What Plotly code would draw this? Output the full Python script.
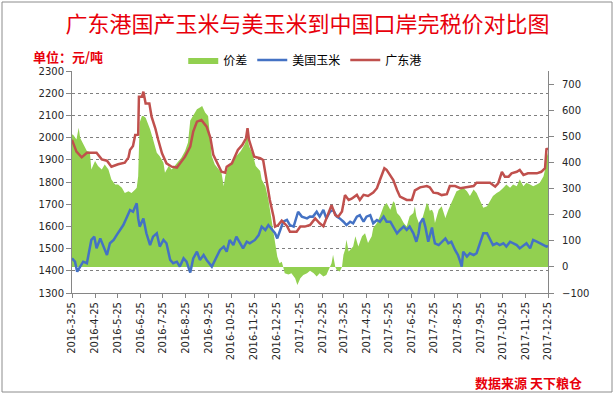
import plotly.graph_objects as go

# ---------------- data ----------------
tick_dates = ["2016-03-25", "2016-04-25", "2016-05-25", "2016-06-25", "2016-07-25", "2016-08-25",
              "2016-09-25", "2016-10-25", "2016-11-25", "2016-12-25", "2017-01-25", "2017-02-25",
              "2017-03-25", "2017-04-25", "2017-05-25", "2017-06-25", "2017-07-25", "2017-08-25",
              "2017-09-25", "2017-10-25", "2017-11-25", "2017-12-25"]
tick_labels = ["2016-3-25", "2016-4-25", "2016-5-25", "2016-6-25", "2016-7-25", "2016-8-25",
               "2016-9-25", "2016-10-25", "2016-11-25", "2016-12-25", "2017-1-25", "2017-2-25",
               "2017-3-25", "2017-4-25", "2017-5-25", "2017-6-25", "2017-7-25", "2017-8-25",
               "2017-9-25", "2017-10-25", "2017-11-25", "2017-12-25"]

# 广东港 (left axis)
gd_dates = [
    "2016-03-25", "2016-03-31", "2016-04-07", "2016-04-14", "2016-04-27", "2016-05-04", "2016-05-11", "2016-05-17", "2016-05-26", "2016-06-04",
    "2016-06-09", "2016-06-11", "2016-06-15", "2016-06-18", "2016-06-22", "2016-06-23", "2016-06-27", "2016-06-29", "2016-07-02", "2016-07-07",
    "2016-07-10", "2016-07-15", "2016-07-19", "2016-07-24", "2016-07-30", "2016-08-06", "2016-08-13", "2016-08-17", "2016-08-24", "2016-08-31",
    "2016-09-04", "2016-09-09", "2016-09-15", "2016-09-22", "2016-09-27", "2016-10-01", "2016-10-08", "2016-10-12", "2016-10-17", "2016-10-19",
    "2016-10-26", "2016-10-30", "2016-11-03", "2016-11-09", "2016-11-14", "2016-11-16", "2016-11-18", "2016-11-25", "2016-12-03", "2016-12-07",
    "2016-12-12", "2016-12-16", "2016-12-21", "2016-12-23", "2016-12-27", "2017-01-01", "2017-01-08", "2017-01-12", "2017-01-21", "2017-01-26",
    "2017-02-01", "2017-02-08", "2017-02-15", "2017-02-21", "2017-02-26", "2017-03-05", "2017-03-09", "2017-03-14", "2017-03-18", "2017-03-23",
    "2017-03-27", "2017-04-01", "2017-04-05", "2017-04-12", "2017-04-16", "2017-04-21", "2017-04-27", "2017-05-04", "2017-05-09", "2017-05-13",
    "2017-05-19", "2017-05-22", "2017-05-27", "2017-05-31", "2017-06-05", "2017-06-09", "2017-06-18", "2017-06-25", "2017-06-29", "2017-07-06",
    "2017-07-15", "2017-07-19", "2017-07-24", "2017-07-30", "2017-08-04", "2017-08-11", "2017-08-15", "2017-08-22", "2017-08-29", "2017-09-07",
    "2017-09-16", "2017-09-20", "2017-09-29", "2017-10-08", "2017-10-15", "2017-10-19", "2017-10-24", "2017-10-28", "2017-11-02", "2017-11-06",
    "2017-11-13", "2017-11-17", "2017-11-22", "2017-11-28", "2017-12-05", "2017-12-10", "2017-12-16", "2017-12-21", "2017-12-23", "2017-12-25"]
gd_price = [
    1990, 1937, 1911, 1932, 1932, 1902, 1896, 1869, 1880, 1887,
    1911, 1944, 1962, 2012, 2013, 2184, 2184, 2207, 2154, 2154,
    2094, 2042, 1989, 1929, 1884, 1869, 1865, 1884, 1914, 1960,
    2027, 2072, 2079, 2049, 2000, 1922, 1877, 1846, 1842, 1869,
    1884, 1914, 1944, 1967, 1997, 2042, 1990, 1914, 1907, 1899,
    1801, 1719, 1644, 1599, 1605, 1626, 1602, 1576, 1576, 1599,
    1599, 1606, 1636, 1614, 1601, 1659, 1696, 1651, 1644, 1667,
    1741, 1719, 1725, 1742, 1719, 1742, 1737, 1752, 1772, 1809,
    1862, 1855, 1832, 1809, 1764, 1734, 1719, 1719, 1762, 1776,
    1782, 1776, 1752, 1749, 1741, 1745, 1782, 1782, 1772, 1776,
    1782, 1797, 1797, 1797, 1779, 1794, 1846, 1824, 1824, 1839,
    1846, 1854, 1832, 1839, 1839, 1839, 1846, 1862, 1952, 1945]

# 美国玉米 (left axis)
us_dates = [
    "2016-03-25", "2016-03-29", "2016-04-01", "2016-04-05", "2016-04-09", "2016-04-14", "2016-04-16", "2016-04-20", "2016-04-24", "2016-04-27",
    "2016-05-02", "2016-05-06", "2016-05-11", "2016-05-15", "2016-05-20", "2016-05-24", "2016-05-29", "2016-06-02", "2016-06-07", "2016-06-11",
    "2016-06-15", "2016-06-20", "2016-06-22", "2016-06-24", "2016-06-29", "2016-07-03", "2016-07-08", "2016-07-12", "2016-07-17", "2016-07-21",
    "2016-07-26", "2016-07-30", "2016-08-04", "2016-08-08", "2016-08-13", "2016-08-17", "2016-08-22", "2016-08-26", "2016-08-31", "2016-09-04",
    "2016-09-09", "2016-09-13", "2016-09-18", "2016-09-22", "2016-09-29", "2016-10-03", "2016-10-10", "2016-10-15", "2016-10-19", "2016-10-23",
    "2016-10-28", "2016-11-01", "2016-11-06", "2016-11-10", "2016-11-15", "2016-11-19", "2016-11-26", "2016-12-01", "2016-12-05", "2016-12-10",
    "2016-12-14", "2016-12-18", "2016-12-23", "2016-12-26", "2016-12-30", "2017-01-03", "2017-01-08", "2017-01-12", "2017-01-17", "2017-01-21",
    "2017-01-23", "2017-01-28", "2017-02-04", "2017-02-08", "2017-02-12", "2017-02-17", "2017-02-21", "2017-02-26", "2017-03-02", "2017-03-07",
    "2017-03-11", "2017-03-16", "2017-03-20", "2017-03-25", "2017-03-29", "2017-04-03", "2017-04-07", "2017-04-12", "2017-04-16", "2017-04-21",
    "2017-04-25", "2017-04-30", "2017-05-04", "2017-05-09", "2017-05-13", "2017-05-18", "2017-05-22", "2017-05-27", "2017-05-31", "2017-06-05",
    "2017-06-09", "2017-06-14", "2017-06-18", "2017-06-22", "2017-06-27", "2017-07-01", "2017-07-04", "2017-07-06", "2017-07-10", "2017-07-13",
    "2017-07-17", "2017-07-22", "2017-07-24", "2017-07-26", "2017-07-31", "2017-08-04", "2017-08-09", "2017-08-13", "2017-08-17", "2017-08-22",
    "2017-08-26", "2017-08-29", "2017-08-31", "2017-09-02", "2017-09-07", "2017-09-11", "2017-09-16", "2017-09-20", "2017-09-25", "2017-09-29",
    "2017-10-04", "2017-10-08", "2017-10-12", "2017-10-17", "2017-10-21", "2017-10-26", "2017-10-30", "2017-11-04", "2017-11-08", "2017-11-13",
    "2017-11-17", "2017-11-22", "2017-11-26", "2017-12-01", "2017-12-05", "2017-12-10", "2017-12-14", "2017-12-19", "2017-12-23", "2017-12-25"]
us_price = [
    1456, 1441, 1396, 1419, 1441, 1434, 1471, 1539, 1554, 1501,
    1546, 1509, 1471, 1524, 1539, 1561, 1584, 1606, 1644, 1674,
    1666, 1704, 1636, 1599, 1636, 1569, 1516, 1554, 1569, 1509,
    1539, 1524, 1449, 1434, 1441, 1419, 1456, 1441, 1392, 1456,
    1486, 1449, 1471, 1449, 1419, 1449, 1494, 1509, 1486, 1539,
    1516, 1554, 1524, 1501, 1531, 1524, 1539, 1561, 1599, 1584,
    1606, 1591, 1569, 1546, 1584, 1621, 1629, 1606, 1599, 1644,
    1666, 1644, 1636, 1645, 1644, 1666, 1644, 1674, 1636, 1666,
    1674, 1644, 1636, 1621, 1606, 1621, 1614, 1644, 1651, 1621,
    1644, 1651, 1614, 1629, 1621, 1644, 1621, 1621, 1599, 1569,
    1584, 1599, 1584, 1599, 1569, 1531, 1569, 1614, 1636, 1599,
    1531, 1595, 1554, 1524, 1516, 1531, 1546, 1524, 1531, 1494,
    1471, 1441, 1419, 1486, 1464, 1479, 1471, 1479, 1524, 1569,
    1569, 1539, 1516, 1524, 1516, 1524, 1509, 1531, 1524, 1516,
    1501, 1516, 1524, 1501, 1539, 1531, 1524, 1516, 1509, 1512]

# 价差 (right axis)
spread_dates = [
    "2016-03-25", "2016-03-27", "2016-03-31", "2016-04-03", "2016-04-05", "2016-04-09", "2016-04-14", "2016-04-18", "2016-04-20", "2016-04-25",
    "2016-04-29", "2016-05-04", "2016-05-08", "2016-05-13", "2016-05-17", "2016-05-22", "2016-05-26", "2016-05-31", "2016-06-04", "2016-06-09",
    "2016-06-13", "2016-06-18", "2016-06-20", "2016-06-22", "2016-06-24", "2016-06-27", "2016-06-29", "2016-07-02", "2016-07-06", "2016-07-08",
    "2016-07-12", "2016-07-17", "2016-07-21", "2016-07-26", "2016-07-28", "2016-08-02", "2016-08-06", "2016-08-10", "2016-08-15", "2016-08-19",
    "2016-08-24", "2016-08-28", "2016-08-31", "2016-09-04", "2016-09-09", "2016-09-13", "2016-09-16", "2016-09-20", "2016-09-24", "2016-09-27",
    "2016-09-29", "2016-10-03", "2016-10-08", "2016-10-12", "2016-10-15", "2016-10-17", "2016-10-21", "2016-10-26", "2016-10-30", "2016-11-03",
    "2016-11-07", "2016-11-12", "2016-11-14", "2016-11-16", "2016-11-18", "2016-11-23", "2016-11-27", "2016-12-03", "2016-12-05", "2016-12-10",
    "2016-12-14", "2016-12-18", "2016-12-23", "2016-12-26", "2016-12-29", "2017-01-01", "2017-01-03", "2017-01-05", "2017-01-10", "2017-01-14",
    "2017-01-19", "2017-01-22", "2017-01-26", "2017-01-30", "2017-02-04", "2017-02-08", "2017-02-13", "2017-02-17", "2017-02-21", "2017-02-26",
    "2017-03-02", "2017-03-07", "2017-03-09", "2017-03-11", "2017-03-14", "2017-03-16", "2017-03-20", "2017-03-23", "2017-03-25", "2017-03-27",
    "2017-03-29", "2017-04-01", "2017-04-03", "2017-04-07", "2017-04-10", "2017-04-14", "2017-04-19", "2017-04-23", "2017-04-27", "2017-05-02",
    "2017-05-04", "2017-05-09", "2017-05-13", "2017-05-18", "2017-05-22", "2017-05-27", "2017-05-31", "2017-06-02", "2017-06-05", "2017-06-09",
    "2017-06-14", "2017-06-18", "2017-06-22", "2017-06-27", "2017-06-29", "2017-07-01", "2017-07-06", "2017-07-10", "2017-07-15", "2017-07-17",
    "2017-07-19", "2017-07-22", "2017-07-24", "2017-07-26", "2017-07-31", "2017-08-04", "2017-08-09", "2017-08-13", "2017-08-17", "2017-08-20",
    "2017-08-24", "2017-08-29", "2017-09-02", "2017-09-07", "2017-09-11", "2017-09-16", "2017-09-20", "2017-09-25", "2017-09-29", "2017-10-04",
    "2017-10-08", "2017-10-12", "2017-10-17", "2017-10-21", "2017-10-26", "2017-10-30", "2017-11-04", "2017-11-08", "2017-11-13", "2017-11-17",
    "2017-11-22", "2017-11-26", "2017-12-01", "2017-12-05", "2017-12-10", "2017-12-14", "2017-12-19", "2017-12-21", "2017-12-23", "2017-12-25"]
spread = [
    508, 504, 488, 533, 493, 469, 444, 440, 373, 405,
    386, 373, 392, 373, 335, 315, 315, 303, 283, 290,
    283, 296, 303, 347, 553, 578, 578, 571, 546, 527,
    488, 437, 424, 399, 360, 386, 373, 386, 405, 418,
    444, 476, 560, 578, 604, 610, 616, 591, 578, 482,
    424, 392, 373, 360, 309, 347, 386, 399, 418, 431,
    444, 469, 488, 501, 463, 431, 386, 367, 335, 309,
    258, 181, 104, 40, 14, 20, 0, -24, -29, -24,
    -44, -69, -44, -31, -24, -15, -24, -37, -24, -37,
    -31, 0, 14, 46, 0, -12, -18, 0, 46, 65,
    104, 59, 65, 78, 117, 78, 117, 129, 91, 117,
    149, 168, 194, 232, 245, 219, 251, 245, 206, 194,
    168, 155, 194, 206, 232, 194, 155, 194, 245, 238,
    215, 219, 206, 168, 219, 232, 187, 219, 245, 271,
    290, 296, 303, 290, 271, 296, 283, 251, 226, 232,
    251, 271, 283, 290, 303, 315, 303, 315, 309, 335,
    309, 322, 315, 309, 315, 322, 347, 373, 418, 437]

# ---------------- styling ----------------
GREEN = "#92D050"
BLUE = "#4472C4"
RED = "#C0504D"
AXIS_GRAY = "#868686"
TICK_FONT = dict(family="DejaVu Sans", size=10, color="#262626")
CJK = "Noto Sans CJK SC"
TEXT_RED = "#E8000B"

fig = go.Figure()
# spread on the primary (right-hand) axis so that it sits underneath the price lines
fig.add_trace(go.Scatter(x=spread_dates, y=spread, name="价差", yaxis="y",
                         mode="lines", line=dict(width=0, color=GREEN),
                         fill="tozeroy", fillcolor=GREEN))
fig.add_trace(go.Scatter(x=us_dates, y=us_price, name="美国玉米", yaxis="y2",
                         mode="lines", line=dict(width=2.5, color=BLUE)))
fig.add_trace(go.Scatter(x=gd_dates, y=gd_price, name="广东港", yaxis="y2",
                         mode="lines", line=dict(width=2.5, color=RED)))

fig.update_layout(
    width=615, height=395,
    margin=dict(l=72, r=67, t=71, b=102),
    paper_bgcolor="white", plot_bgcolor="white",
    title=dict(text="广东港国产玉米与美玉米到中国口岸完税价对比图",
               x=0.5, xref="container", xanchor="center",
               y=1 - 24 / 395, yref="container", yanchor="middle",
               font=dict(family=CJK, size=22, color=TEXT_RED)),
    legend=dict(orientation="h", x=0.49, xanchor="center", y=1.05, yanchor="middle",
                font=dict(family=CJK, size=12, color="#000000"),
                bgcolor="rgba(0,0,0,0)", itemwidth=30, tracegroupgap=0),
    showlegend=True,
    xaxis=dict(type="date", range=["2016-03-25", "2017-12-25"],
               tickmode="array", tickvals=tick_dates, ticktext=tick_labels,
               tickangle=-90, tickfont=TICK_FONT,
               ticks="outside", ticklen=4, tickcolor=AXIS_GRAY,
               showline=True, linecolor=AXIS_GRAY, linewidth=1,
               showgrid=False, zeroline=False, automargin=False),
    yaxis=dict(range=[-100, 750], side="right",
               tickmode="array", tickvals=[-100, 0, 100, 200, 300, 400, 500, 600, 700],
               tickfont=TICK_FONT, ticks="outside", ticklen=5, tickcolor=AXIS_GRAY,
               ticklabelstandoff=6,
               showline=True, linecolor=AXIS_GRAY, linewidth=1,
               showgrid=False, zeroline=False, automargin=False),
    yaxis2=dict(range=[1300, 2300], dtick=100, tick0=1300, overlaying="y", side="left",
                tickfont=TICK_FONT, ticks="outside", ticklen=5, tickcolor=AXIS_GRAY,
                showline=True, linecolor=AXIS_GRAY, linewidth=1,
                showgrid=True, gridcolor="#7F7F7F", griddash="dot", gridwidth=1,
                zeroline=False, automargin=False),
)

fig.add_annotation(text="<b>单位：元/吨</b>", xref="paper", yref="paper",
                   x=(31 - 72) / 476, y=(293 - 57) / 222, xanchor="left", yanchor="middle",
                   showarrow=False, font=dict(family=CJK, size=13, color=TEXT_RED))
fig.add_annotation(text="<b>数据来源 天下粮仓</b>", xref="paper", yref="paper",
                   x=(584 - 72) / 476, y=(293 - 382) / 222, xanchor="right", yanchor="middle",
                   showarrow=False, font=dict(family=CJK, size=13, color=TEXT_RED))

# outer chart frame
fig.add_shape(type="rect", xref="paper", yref="paper",
              x0=(2 - 72) / 476, x1=(612 - 72) / 476,
              y0=(293 - 392) / 222, y1=(293 - 2) / 222,
              line=dict(color="#8C8C8C", width=1), fillcolor="rgba(0,0,0,0)", layer="below")

fig.write_html("out.html", config={"displayModeBar": False},
               post_script="document.body.style.margin='0';")
